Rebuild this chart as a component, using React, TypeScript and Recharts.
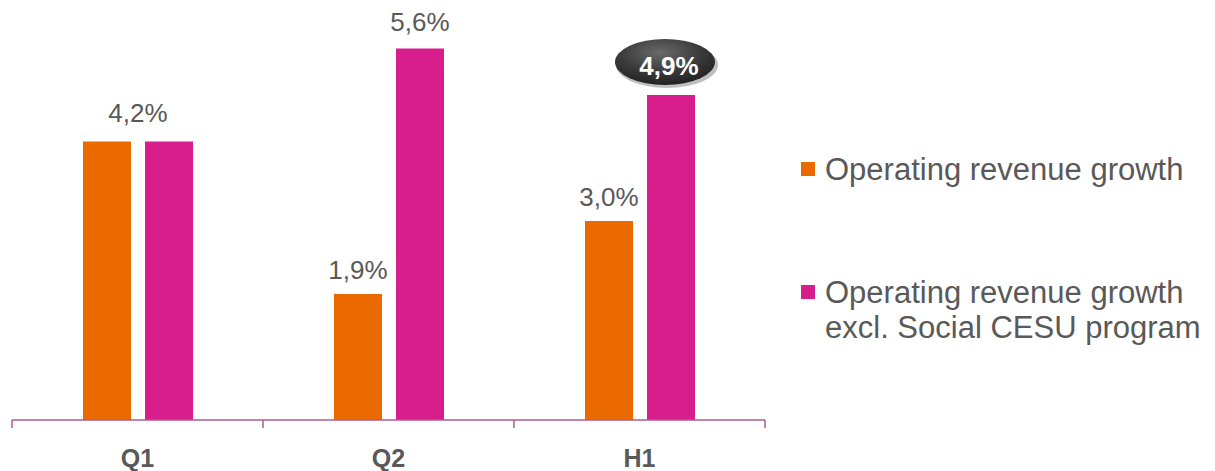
import React from "react";
import { BarChart, Bar, XAxis, YAxis, LabelList } from "recharts";

const categories = ["Q1", "Q2", "H1"];
const revenueGrowth = [4.2, 1.9, 3.0];
const revenueGrowthExclCesu = [4.2, 5.6, 4.9];
const highlighted = "H1";

const seriesNames = [
  "Operating revenue growth",
  "Operating revenue growth excl. Social CESU program",
];

const ORANGE = "#EA6A00";
const MAGENTA = "#D81D8D";
const TEXT = "#595959";
const AXIS = "#A95C98";
const FONT = "'Liberation Sans', Arial, sans-serif";

const W = 1215;
const H = 471;
const MARGIN = { top: 22, right: 450, left: 12, bottom: 0 };
const BAND = (W - MARGIN.left - MARGIN.right) / categories.length;

const data = categories.map((name, i) => ({
  name,
  growth: revenueGrowth[i],
  exclCesu: revenueGrowthExclCesu[i],
}));

const fmt = (v: number) => v.toFixed(1).replace(".", ",") + "%";

const GrowthLabel = (props: any) => {
  const { x, y, width, index } = props;
  if (revenueGrowth[index] === revenueGrowthExclCesu[index]) return null;
  return (
    <text
      x={x + width / 2}
      y={y - 15}
      textAnchor="middle"
      fontSize={26}
      fontFamily={FONT}
      fill={TEXT}
    >
      {fmt(revenueGrowth[index])}
    </text>
  );
};

const ExclLabel = (props: any) => {
  const { x, y, width, index } = props;
  const v = revenueGrowthExclCesu[index];
  if (v === revenueGrowth[index]) {
    // shared value: one label centred over both bars
    return (
      <text x={x - 7} y={y - 19} textAnchor="middle" fontSize={26} fontFamily={FONT} fill={TEXT}>
        {fmt(v)}
      </text>
    );
  }
  if (categories[index] === highlighted) {
    const cx = x + width / 2 - 6;
    const cy = y - 33;
    return (
      <g>
        <defs>
          <radialGradient id="bubbleFill" cx="45%" cy="30%" r="75%">
            <stop offset="0%" stopColor="#6a6a6a" />
            <stop offset="55%" stopColor="#3a3a3a" />
            <stop offset="100%" stopColor="#1e1e1e" />
          </radialGradient>
        </defs>
        <ellipse cx={cx + 2} cy={cy + 3} rx={51} ry={23} fill="#000" opacity={0.25} />
        <ellipse cx={cx} cy={cy} rx={50} ry={23} fill="url(#bubbleFill)" />
        <text
          x={cx + 4}
          y={y - 20}
          textAnchor="middle"
          fontSize={26}
          fontWeight="bold"
          fontFamily={FONT}
          fill="#fff"
        >
          {fmt(v)}
        </text>
      </g>
    );
  }
  return (
    <text x={x + width / 2} y={y - 18} textAnchor="middle" fontSize={26} fontFamily={FONT} fill={TEXT}>
      {fmt(v)}
    </text>
  );
};

const CategoryTick = (props: any) => {
  const { x, y, payload, index } = props;
  return (
    <g>
      <line x1={x - BAND / 2} y1={y} x2={x - BAND / 2} y2={y + 8} stroke={AXIS} strokeWidth={1.5} />
      {index === categories.length - 1 && (
        <line x1={x + BAND / 2} y1={y} x2={x + BAND / 2} y2={y + 8} stroke={AXIS} strokeWidth={1.5} />
      )}
      <text
        x={x}
        y={y + 47}
        textAnchor="middle"
        fontSize={25}
        fontWeight="bold"
        fontFamily={FONT}
        fill={TEXT}
      >
        {payload.value}
      </text>
    </g>
  );
};

export default function App() {
  return (
    <div style={{ position: "absolute", left: 0, top: 0, width: W, height: H, background: "#fff" }}>
      <BarChart width={W} height={H} data={data} margin={MARGIN} barSize={48} barGap={14}>
        <XAxis
          dataKey="name"
          axisLine={{ stroke: AXIS, strokeWidth: 1.5 }}
          tickLine={false}
          tickSize={0}
          tickMargin={0}
          height={51}
          tick={<CategoryTick />}
          interval={0}
        />
        <YAxis hide domain={[0, 6]} />
        <Bar dataKey="growth" name={seriesNames[0]} fill={ORANGE} isAnimationActive={false}>
          <LabelList dataKey="growth" content={<GrowthLabel />} />
        </Bar>
        <Bar dataKey="exclCesu" name={seriesNames[1]} fill={MAGENTA} isAnimationActive={false}>
          <LabelList dataKey="exclCesu" content={<ExclLabel />} />
        </Bar>
      </BarChart>
      <div
        style={{
          position: "absolute",
          left: 801,
          top: 152,
          width: 414,
          fontFamily: FONT,
          fontSize: 31,
          lineHeight: "35px",
          color: TEXT,
        }}
      >
        {seriesNames.map((name, i) => (
          <div
            key={name}
            style={{ position: "relative", paddingLeft: 24, marginTop: i === 0 ? 0 : 88 }}
          >
            <span
              style={{
                position: "absolute",
                left: 0,
                top: 10,
                width: 14,
                height: 14,
                background: i === 0 ? ORANGE : MAGENTA,
              }}
            />
            {name}
          </div>
        ))}
      </div>
    </div>
  );
}
